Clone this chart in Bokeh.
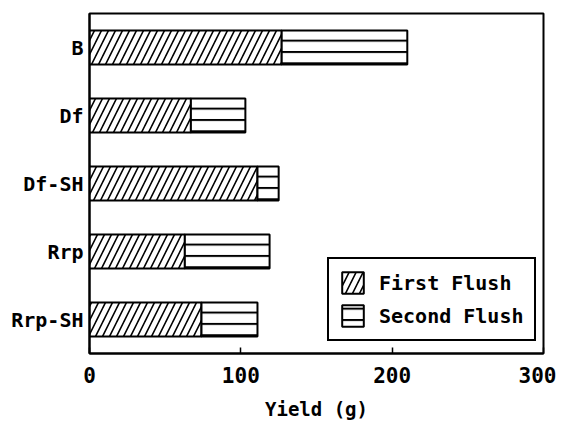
from bokeh.plotting import figure
from bokeh.models import ColumnDataSource, FactorRange, FixedTicker, Legend, LegendItem
from bokeh.embed import file_html
from bokeh.resources import INLINE

categories = ["B", "Df", "Df-SH", "Rrp", "Rrp-SH"]
first_flush = [127, 67, 111, 63, 74]
second_flush = [83, 36, 14, 56, 37]
x_ticks = [0, 100, 200, 300]

totals = [a + b for a, b in zip(first_flush, second_flush)]
src = ColumnDataSource(dict(cat=categories, zero=[0] * len(categories),
                            first=first_flush, total=totals))

FONT = "DejaVu Sans Mono"

p = figure(width=556, height=422, output_backend="svg", toolbar_location=None,
           x_range=(0, 300), y_range=FactorRange(factors=categories[::-1], range_padding=0),
           min_border_left=89, min_border_right=13, min_border_top=13, min_border_bottom=69)

r1 = p.hbar(y="cat", left="zero", right="first", height=0.5, source=src,
            fill_color="white", line_color="black", line_width=2,
            hatch_pattern="/", hatch_color="black", hatch_scale=14, hatch_weight=1.6)
r2 = p.hbar(y="cat", left="first", right="total", height=0.5, source=src,
            fill_color="white", line_color="black", line_width=2,
            hatch_pattern="-", hatch_color="black", hatch_scale=11.33, hatch_weight=2)

p.grid.visible = False
p.outline_line_color = "black"
p.outline_line_width = 2
p.outline_line_alpha = 1
p.background_fill_color = "white"
p.border_fill_color = "white"

xa = p.xaxis[0]
xa.ticker = FixedTicker(ticks=x_ticks)
xa.major_tick_in = 6
xa.major_tick_out = 0
xa.minor_tick_line_color = None
xa.axis_line_width = 2
xa.major_tick_line_width = 1.5
xa.major_label_text_font = FONT
xa.major_label_text_font_style = "bold"
xa.major_label_text_font_size = "21px"
xa.major_label_text_color = "black"
xa.major_label_standoff = 13
xa.axis_label = "Yield (g)"
xa.axis_label_text_font = FONT
xa.axis_label_text_font_style = "bold"
xa.axis_label_text_font_size = "19px"
xa.axis_label_text_color = "black"
xa.axis_label_standoff = 12

ya = p.yaxis[0]
ya.major_tick_in = 0
ya.major_tick_out = 0
ya.axis_line_width = 2
ya.major_label_text_font = FONT
ya.major_label_text_font_style = "bold"
ya.major_label_text_font_size = "20px"
ya.major_label_text_color = "black"
ya.major_label_standoff = 6

legend = Legend(items=[LegendItem(label="First Flush", renderers=[r1]),
                       LegendItem(label="Second Flush", renderers=[r2])],
                location=(238, 12))
legend.border_line_color = "black"
legend.border_line_alpha = 1
legend.border_line_width = 2
legend.label_text_font = FONT
legend.label_text_font_style = "bold"
legend.label_text_font_size = "20px"
legend.label_text_color = "black"
legend.glyph_width = 27
legend.glyph_height = 27
legend.label_standoff = 13
legend.padding = 10
legend.spacing = 6
legend.margin = 0
legend.background_fill_alpha = 1
p.add_layout(legend, "center")

open("out.html", "w").write(file_html(p, INLINE))
